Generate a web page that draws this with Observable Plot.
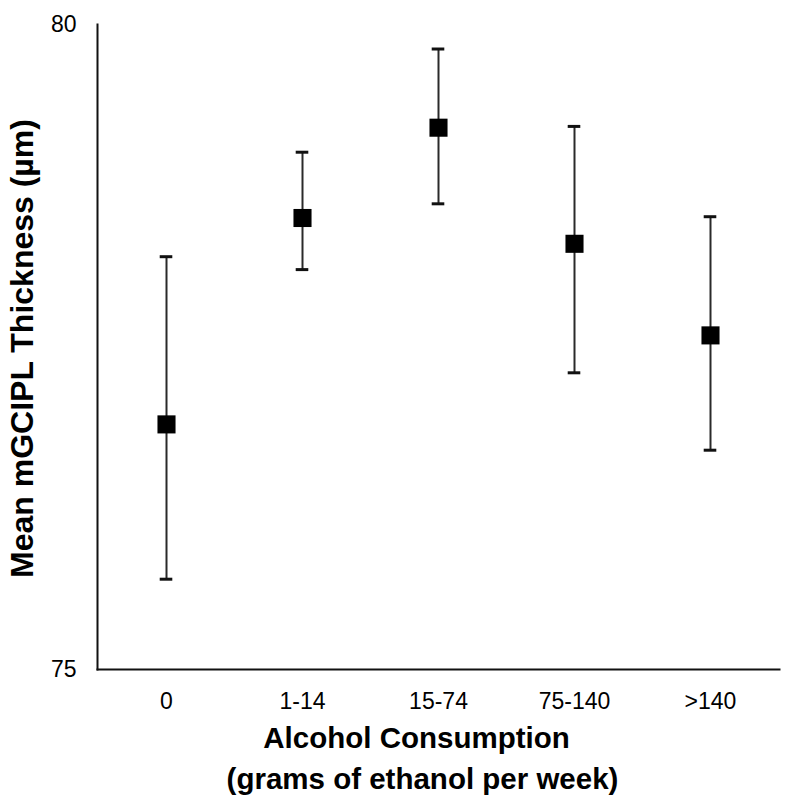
<!DOCTYPE html>
<html>
<head>
<meta charset="utf-8">
<script src="https://cdn.jsdelivr.net/npm/d3@7"></script>
<script src="https://cdn.jsdelivr.net/npm/@observablehq/plot@0.6"></script>
<style>
  html, body { margin: 0; padding: 0; background: #fff; }
  #chart svg { display: block; }
</style>
</head>
<body>
<div id="chart"></div>
<script>
const categories = ["0", "1-14", "15-74", "75-140", ">140"];
const means = [76.90, 78.50, 79.20, 78.30, 77.59];
const upper = [78.20, 79.01, 79.81, 79.21, 78.51];
const lower = [75.70, 78.10, 78.61, 77.30, 76.70];
const yTicks = [75, 80];
const xTitle1 = "Alcohol Consumption";
const xTitle2 = "(grams of ethanol per week)";
const yTitle = "Mean mGCIPL Thickness (µm)";

const data = categories.map((c, i) => ({cat: c, mean: means[i], lo: lower[i], hi: upper[i]}));

const font = "'Liberation Sans', Arial, Helvetica, sans-serif";

const chart = Plot.plot({
  width: 789,
  height: 806,
  marginLeft: 97,
  marginRight: 10,
  marginTop: 24,
  marginBottom: 137,
  style: {fontFamily: font, background: "#fff", color: "#000"},
  x: {domain: categories, type: "band", padding: 0},
  y: {domain: [75, 80]},
  marks: [
    Plot.frame({anchor: "left", stroke: "#111", strokeWidth: 2}),
    Plot.frame({anchor: "bottom", stroke: "#111", strokeWidth: 2}),
    Plot.axisY({ticks: yTicks, tickFormat: "d", tickSize: 0, tickPadding: 21, fontSize: 23, label: null}),
    Plot.axisX({tickSize: 0, tickPadding: 23, fontSize: 23, label: null}),
    Plot.ruleX(data, {x: "cat", y1: "lo", y2: "hi", stroke: "#2a2a2a", strokeWidth: 2}),
    Plot.tickY(data, {x: "cat", y: "hi", stroke: "#111", strokeWidth: 3, insetLeft: 61.7, insetRight: 61.7}),
    Plot.tickY(data, {x: "cat", y: "lo", stroke: "#111", strokeWidth: 3, insetLeft: 61.7, insetRight: 61.7}),
    Plot.dot(data, {x: "cat", y: "mean", symbol: "square", r: 10.2, fill: "#000", stroke: "none"}),
    Plot.text([xTitle1], {frameAnchor: "bottom", textAnchor: "middle", lineAnchor: "middle", dx: -22, dy: 68.7, fontSize: 29.5, fontWeight: "bold", fill: "#000"}),
    Plot.text([xTitle2], {frameAnchor: "bottom", textAnchor: "middle", lineAnchor: "middle", dx: -16, dy: 109.7, fontSize: 29.5, fontWeight: "bold", fill: "#000"}),
    Plot.text([yTitle], {frameAnchor: "left", textAnchor: "middle", lineAnchor: "middle", rotate: -90, dx: -75, dy: 1.5, fontSize: 32, fontWeight: "bold", fill: "#000"})
  ]
});
document.getElementById("chart").appendChild(chart);
</script>
</body>
</html>
